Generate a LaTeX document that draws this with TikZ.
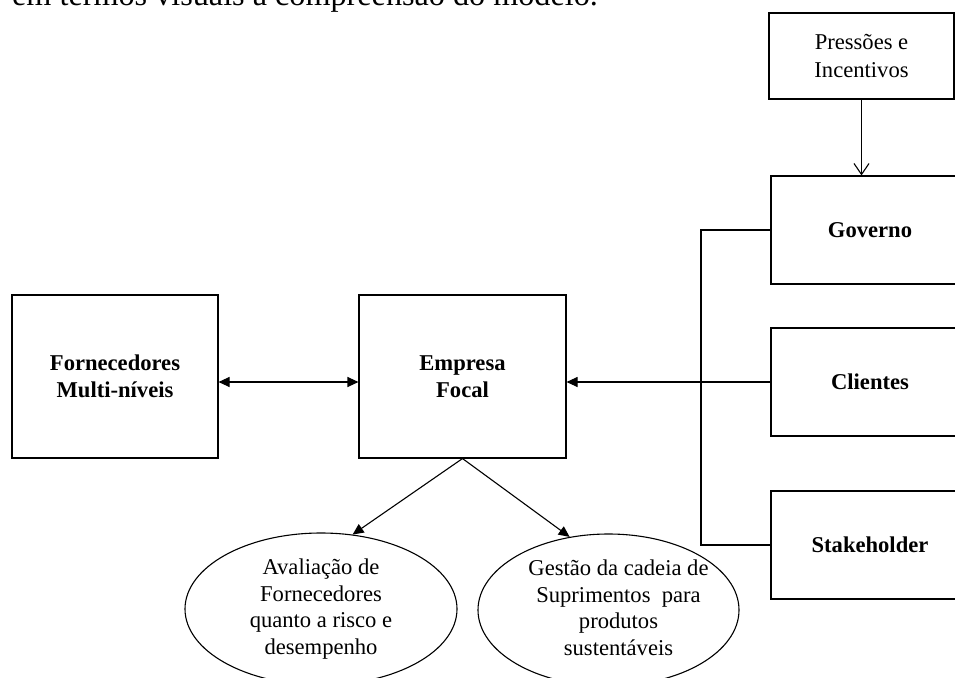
\documentclass[tikz,border=0pt]{standalone}
\usepackage{fontspec}
\setmainfont{Liberation Serif}
\usetikzlibrary{arrows.meta,shapes.geometric}
\newcommand{\ctxt}[2][0pt]{\makebox[0pt]{\hspace{#1}\begin{tabular}{@{}c@{}}#2\end{tabular}}}
\begin{document}
\begin{tikzpicture}[x=1pt,y=-1pt,
  every node/.style={font=\fontsize{22.6}{26.5}\selectfont},
  conn/.style={line width=1.1pt, draw=black},
  boxnode/.style={draw=black, line width=1.1pt, rectangle, inner sep=0pt, align=center},
  oval/.style={draw=black, line width=1.1pt, ellipse, inner sep=0pt},
  tri/.style={-{Triangle[length=11pt,width=10pt]}},
  bitri/.style={{Triangle[length=11pt,width=10pt]}-{Triangle[length=11pt,width=10pt]}},
  barb/.style={-{Straight Barb[length=11pt,width=15pt,line width=1.1pt]}}
]
\useasboundingbox (0,0) rectangle (955,677);
\clip (0,0) rectangle (955,677);

\node[anchor=base west, inner sep=0pt, font=\fontsize{32.2}{38}\selectfont] (top) at (12,5.5) {em termos visuais a compreensão do modelo.};

\node[boxnode, minimum width=206pt, minimum height=163pt, font=\fontsize{22.6}{27}\selectfont\bfseries] (F) at (115,376.5) {Fornecedores\\Multi-níveis};
\node[boxnode, minimum width=207pt, minimum height=163pt, font=\fontsize{22.6}{27}\selectfont\bfseries] (E) at (462.5,376.5) {Empresa\\Focal};
\node[boxnode, minimum width=185pt, minimum height=86pt, font=\fontsize{22.6}{28}\selectfont] (P) at (861.5,56) {Pressões e\\Incentivos};
\node[boxnode, minimum width=198pt, minimum height=108pt, font=\fontsize{22.6}{27}\selectfont\bfseries] (G) at (870,230) {Governo};
\node[boxnode, minimum width=198pt, minimum height=108pt, font=\fontsize{22.6}{27}\selectfont\bfseries] (C) at (870,382) {Clientes};
\node[boxnode, minimum width=198pt, minimum height=108pt, font=\fontsize{22.6}{27}\selectfont\bfseries] (S) at (870,545) {Stakeholder};

\node[oval, minimum width=272pt, minimum height=152pt] (L) at (321,609)
  {\ctxt{Avaliação de\\Fornecedores\\quanto a risco e\\desempenho}};
\node[oval, minimum width=261pt, minimum height=152pt] (R) at (608.5,610)
  {\ctxt[20pt]{Gestão da cadeia de\\Suprimentos\ \ para\\produtos\\sustentáveis}};

\coordinate (J) at (701,0);

\draw[conn, bitri] (F.east |- C.west) -- (E.west |- C.west);
\draw[conn, tri] (C.west) -- (E.east |- C.west);
\draw[conn] (G.west) -| (J |- S.west) -- (S.west);
\draw[conn, barb] (P.south) -- (P.south |- G.north);
\draw[conn, tri] (E.south) -- (L.67);
\draw[conn, tri] (E.south) -- (R.118);
\end{tikzpicture}
\end{document}
